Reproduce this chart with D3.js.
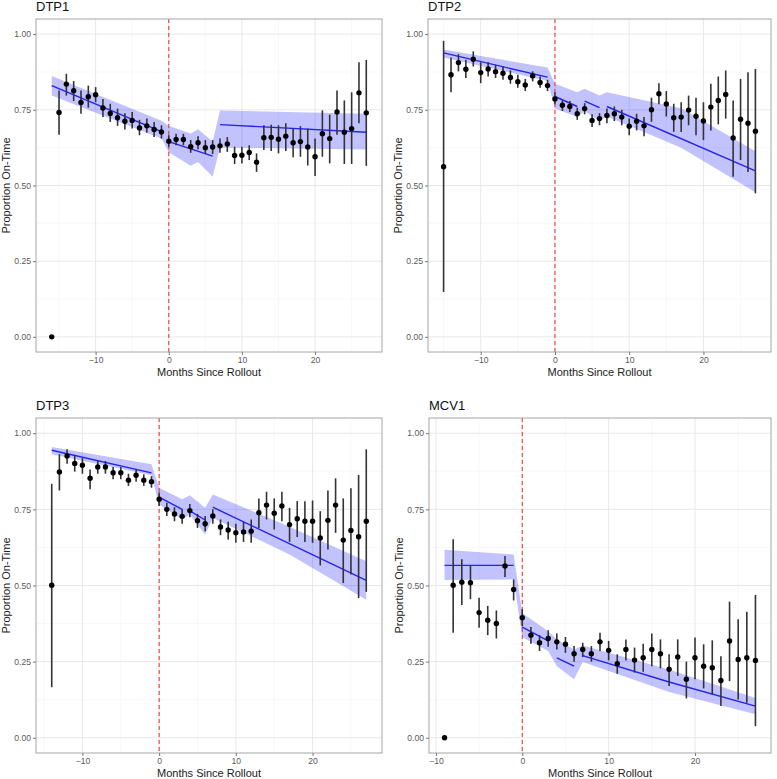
<!DOCTYPE html>
<html>
<head>
<meta charset="utf-8">
<script src="https://cdn.jsdelivr.net/npm/d3@7"></script>
<style>
  html, body { margin: 0; padding: 0; background: #fff; }
  svg { display: block; font-family: "Liberation Sans", Arial, Helvetica, sans-serif; }
</style>
</head>
<body>
<svg id="chart" width="777" height="779"></svg>
<script>
// ---------------- DATA ----------------
const yTicks = [0, 0.25, 0.5, 0.75, 1.0];
const yTickLabels = ["0.00", "0.25", "0.50", "0.75", "1.00"];
const yMinor = [0.125, 0.375, 0.625, 0.875];
const xTicks = [-10, 0, 10, 20];
const xMinor = [-15, -5, 5, 15, 25];

// DTP1
const dtp1Month = d3.range(-16, 28);
const dtp1Est = [0.000, 0.741, 0.835, 0.813, 0.774, 0.793, 0.800, 0.756, 0.738, 0.724, 0.712, 0.715, 0.690, 0.697, 0.685, 0.677,
  0.646, 0.652, 0.652, 0.628, 0.641, 0.625, 0.627, 0.631, 0.637, 0.599,
  0.600, 0.609, 0.577, 0.658, 0.659, 0.653, 0.663, 0.641, 0.645, 0.627,
  0.595, 0.671, 0.655, 0.743, 0.676, 0.688, 0.806, 0.740];
const dtp1Lo = [null, 0.668, 0.797, 0.779, 0.737, 0.757, 0.775, 0.726, 0.710, 0.697, 0.685, 0.688, 0.666, 0.674, 0.660, 0.655,
  0.628, 0.633, 0.633, 0.608, 0.620, 0.604, 0.604, 0.608, 0.611, 0.571,
  0.573, 0.584, 0.545, 0.617, 0.614, 0.606, 0.614, 0.593, 0.595, 0.566,
  0.531, 0.595, 0.573, 0.668, 0.571, 0.571, 0.706, 0.565];
const dtp1Hi = [null, 0.814, 0.869, 0.845, 0.814, 0.830, 0.825, 0.786, 0.770, 0.754, 0.739, 0.743, 0.717, 0.721, 0.710, 0.699,
  0.666, 0.671, 0.671, 0.650, 0.663, 0.650, 0.650, 0.655, 0.660, 0.628,
  0.628, 0.633, 0.606, 0.699, 0.701, 0.699, 0.706, 0.688, 0.696, 0.688,
  0.655, 0.748, 0.734, 0.814, 0.781, 0.808, 0.907, 0.915];
const dtp1FitMonth = [-16, -1, 0, 6, 7, 27];
const dtp1Fit = [0.830, 0.678, 0.645, 0.597, 0.701, 0.676];
const dtp1FitGroup = [1, 1, 2, 2, 3, 3];
const dtp1BandMonth = [-16, -1, 0, 3, 4, 6, 7, 27];
const dtp1BandLo = [0.797, 0.655, 0.610, 0.565, 0.578, 0.529, 0.625, 0.619];
const dtp1BandHi = [0.862, 0.714, 0.697, 0.672, 0.686, 0.645, 0.748, 0.737];

// DTP2
const dtp2Month = d3.range(-15, 28);
const dtp2Est = [0.562, 0.866, 0.906, 0.884, 0.917, 0.873, 0.885, 0.876, 0.871, 0.857, 0.843, 0.832, 0.862, 0.840, 0.830,
  0.786, 0.765, 0.761, 0.737, 0.754, 0.715, 0.721, 0.731, 0.737, 0.726,
  0.696, 0.712, 0.697, 0.750, 0.803, 0.769, 0.724, 0.726, 0.749, 0.729,
  0.713, 0.759, 0.781, 0.801, 0.657, 0.719, 0.706, 0.679];
const dtp2Lo = [0.148, 0.808, 0.877, 0.855, 0.893, 0.838, 0.860, 0.855, 0.849, 0.836, 0.823, 0.812, 0.844, 0.823, 0.812,
  0.768, 0.746, 0.743, 0.717, 0.735, 0.693, 0.699, 0.706, 0.713, 0.699,
  0.666, 0.682, 0.663, 0.710, 0.768, 0.728, 0.677, 0.677, 0.699, 0.666,
  0.650, 0.682, 0.702, 0.721, 0.529, 0.584, 0.545, 0.474];
const dtp2Hi = [0.978, 0.923, 0.934, 0.915, 0.943, 0.907, 0.907, 0.899, 0.893, 0.880, 0.866, 0.852, 0.877, 0.860, 0.849,
  0.808, 0.781, 0.779, 0.757, 0.772, 0.735, 0.739, 0.754, 0.761, 0.750,
  0.721, 0.737, 0.726, 0.790, 0.838, 0.812, 0.770, 0.775, 0.797, 0.790,
  0.775, 0.836, 0.860, 0.880, 0.781, 0.852, 0.874, 0.885];
const dtp2FitMonth = [-15, -1, 0, 3, 4, 6, 7, 27];
const dtp2Fit = [0.938, 0.858, 0.794, 0.761, 0.779, 0.757, 0.761, 0.548];
const dtp2FitGroup = [1, 1, 2, 2, 3, 3, 4, 4];
const dtp2BandMonth = [-15, -1, 0, 3, 4, 6, 7, 17, 27];
const dtp2BandLo = [0.923, 0.845, 0.754, 0.726, 0.745, 0.713, 0.728, 0.625, 0.478];
const dtp2BandHi = [0.949, 0.890, 0.836, 0.808, 0.820, 0.797, 0.808, 0.755, 0.613];

// DTP3
const dtp3Month = d3.range(-14, 28);
const dtp3Est = [0.501, 0.873, 0.925, 0.901, 0.895, 0.852, 0.889, 0.889, 0.870, 0.870, 0.846, 0.862, 0.846, 0.841,
  0.783, 0.750, 0.735, 0.727, 0.746, 0.713, 0.703, 0.728, 0.692, 0.682,
  0.673, 0.676, 0.678, 0.739, 0.764, 0.737, 0.761, 0.700, 0.719, 0.711,
  0.711, 0.656, 0.714, 0.764, 0.649, 0.681, 0.660, 0.711];
const dtp3Lo = [0.166, 0.812, 0.900, 0.874, 0.867, 0.816, 0.867, 0.867, 0.849, 0.849, 0.827, 0.841, 0.827, 0.821,
  0.761, 0.728, 0.711, 0.703, 0.724, 0.689, 0.678, 0.703, 0.665, 0.651,
  0.640, 0.643, 0.640, 0.689, 0.717, 0.684, 0.711, 0.643, 0.659, 0.643,
  0.640, 0.566, 0.618, 0.673, 0.508, 0.536, 0.459, 0.479];
const dtp3Hi = [0.834, 0.931, 0.947, 0.929, 0.918, 0.881, 0.911, 0.909, 0.889, 0.889, 0.867, 0.881, 0.865, 0.859,
  0.805, 0.772, 0.757, 0.750, 0.768, 0.735, 0.728, 0.750, 0.717, 0.709,
  0.703, 0.709, 0.717, 0.786, 0.808, 0.786, 0.808, 0.755, 0.777, 0.777,
  0.779, 0.744, 0.812, 0.852, 0.786, 0.819, 0.863, 0.947];
const dtp3FitMonth = [-14, -1, 0, 3, 4, 6, 7, 27];
const dtp3Fit = [0.944, 0.870, 0.790, 0.750, 0.745, 0.715, 0.757, 0.517];
const dtp3FitGroup = [1, 1, 2, 2, 3, 3, 4, 4];
const dtp3BandMonth = [-14, -1, 0, 3, 4, 6, 7, 17, 27];
const dtp3BandLo = [0.931, 0.862, 0.766, 0.717, 0.733, 0.667, 0.722, 0.602, 0.453];
const dtp3BandHi = [0.955, 0.898, 0.821, 0.783, 0.796, 0.755, 0.799, 0.693, 0.580];

// MCV1
const mcv1Month = d3.range(-9, 28);
const mcv1Est = [0.000, 0.501, 0.511, 0.509, 0.411, 0.386, 0.375, 0.564, 0.487,
  0.394, 0.337, 0.312, 0.326, 0.315, 0.307, 0.276, 0.290, 0.276, 0.315,
  0.287, 0.243, 0.290, 0.255, 0.263, 0.290, 0.276, 0.225, 0.265, 0.192,
  0.263, 0.235, 0.230, 0.188, 0.318, 0.257, 0.263, 0.254];
const mcv1Lo = [null, 0.345, 0.436, 0.455, 0.361, 0.337, 0.326, 0.528, 0.451,
  0.367, 0.309, 0.285, 0.299, 0.290, 0.279, 0.250, 0.265, 0.250, 0.285,
  0.254, 0.210, 0.254, 0.214, 0.217, 0.235, 0.228, 0.170, 0.203, 0.129,
  0.192, 0.162, 0.142, 0.104, 0.186, 0.126, 0.115, 0.038];
const mcv1Hi = [null, 0.652, 0.586, 0.564, 0.460, 0.433, 0.418, 0.597, 0.520,
  0.422, 0.364, 0.337, 0.353, 0.342, 0.331, 0.301, 0.312, 0.301, 0.345,
  0.318, 0.274, 0.323, 0.296, 0.309, 0.342, 0.323, 0.274, 0.323, 0.250,
  0.329, 0.307, 0.320, 0.268, 0.447, 0.389, 0.414, 0.469];
const mcv1FitMonth = [-9, -1, 0, 3, 4, 6, 7, 17, 27];
const mcv1Fit = [0.566, 0.566, 0.363, 0.318, 0.262, 0.235, 0.270, 0.183, 0.104];
const mcv1FitGroup = [1, 1, 2, 2, 3, 3, 4, 4, 4];
const mcv1BandMonth = [-9, -1, 0, 3, 4, 6, 7, 17, 27];
const mcv1BandLo = [0.518, 0.520, 0.330, 0.285, 0.235, 0.192, 0.249, 0.150, 0.077];
const mcv1BandHi = [0.617, 0.602, 0.410, 0.350, 0.323, 0.290, 0.303, 0.224, 0.131];

// ---------------- PANELS ----------------
const panels = [
  { title: "DTP1", left: 36, top: 19, right: 382, bottom: 352,
    month: dtp1Month, est: dtp1Est, lo: dtp1Lo, hi: dtp1Hi,
    fitM: dtp1FitMonth, fit: dtp1Fit, fitG: dtp1FitGroup,
    bandM: dtp1BandMonth, bandLo: dtp1BandLo, bandHi: dtp1BandHi },
  { title: "DTP2", left: 428, top: 19, right: 771, bottom: 352,
    month: dtp2Month, est: dtp2Est, lo: dtp2Lo, hi: dtp2Hi,
    fitM: dtp2FitMonth, fit: dtp2Fit, fitG: dtp2FitGroup,
    bandM: dtp2BandMonth, bandLo: dtp2BandLo, bandHi: dtp2BandHi },
  { title: "DTP3", left: 36, top: 418, right: 382, bottom: 753,
    month: dtp3Month, est: dtp3Est, lo: dtp3Lo, hi: dtp3Hi,
    fitM: dtp3FitMonth, fit: dtp3Fit, fitG: dtp3FitGroup,
    bandM: dtp3BandMonth, bandLo: dtp3BandLo, bandHi: dtp3BandHi },
  { title: "MCV1", left: 429, top: 418, right: 771, bottom: 753,
    month: mcv1Month, est: mcv1Est, lo: mcv1Lo, hi: mcv1Hi,
    fitM: mcv1FitMonth, fit: mcv1Fit, fitG: mcv1FitGroup,
    bandM: mcv1BandMonth, bandLo: mcv1BandLo, bandHi: mcv1BandHi }
];

const svg = d3.select("#chart");

panels.forEach(p => {
  const [mn, mx] = d3.extent(p.month);
  const pad = (mx - mn) * 0.05;
  const x = d3.scaleLinear().domain([mn - pad, mx + pad]).range([p.left, p.right]);
  const y = d3.scaleLinear().domain([-0.05, 1.05]).range([p.bottom, p.top]);
  const g = svg.append("g");

  // background
  g.append("rect").attr("x", p.left).attr("y", p.top)
    .attr("width", p.right - p.left).attr("height", p.bottom - p.top)
    .attr("fill", "#fff");

  // minor grid
  g.selectAll(".ymin").data(yMinor).join("line")
    .attr("x1", p.left).attr("x2", p.right)
    .attr("y1", d => y(d)).attr("y2", d => y(d))
    .attr("stroke", "#f3f3f3").attr("stroke-width", 0.6);
  g.selectAll(".xmin").data(xMinor.filter(d => x(d) > p.left && x(d) < p.right)).join("line")
    .attr("y1", p.top).attr("y2", p.bottom)
    .attr("x1", d => x(d)).attr("x2", d => x(d))
    .attr("stroke", "#f3f3f3").attr("stroke-width", 0.6);
  // major grid
  g.append("g").selectAll("line").data(yTicks).join("line")
    .attr("x1", p.left).attr("x2", p.right)
    .attr("y1", d => y(d)).attr("y2", d => y(d))
    .attr("stroke", "#e8e8e8").attr("stroke-width", 1);
  g.append("g").selectAll("line").data(xTicks).join("line")
    .attr("y1", p.top).attr("y2", p.bottom)
    .attr("x1", d => x(d)).attr("x2", d => x(d))
    .attr("stroke", "#e8e8e8").attr("stroke-width", 1);

  // ribbon
  const band = p.bandM.map((m, i) => ({ m, lo: p.bandLo[i], hi: p.bandHi[i] }));
  g.append("path").datum(band)
    .attr("d", d3.area().x(d => x(d.m)).y0(d => y(d.lo)).y1(d => y(d.hi)))
    .attr("fill", "#0000ff").attr("fill-opacity", 0.24).attr("stroke", "none");

  // fit lines
  const fitPts = p.fitM.map((m, i) => ({ m, v: p.fit[i], g: p.fitG[i] }));
  const groups = d3.groups(fitPts, d => d.g);
  g.append("g").selectAll("path").data(groups).join("path")
    .attr("d", d => d3.line().x(e => x(e.m)).y(e => y(e.v))(d[1]))
    .attr("fill", "none").attr("stroke", "#2424ee").attr("stroke-width", 1.4);

  // vertical dashed line at 0
  g.append("line")
    .attr("x1", x(0)).attr("x2", x(0)).attr("y1", p.top).attr("y2", p.bottom)
    .attr("stroke", "#ee3b3b").attr("stroke-width", 1.1)
    .attr("stroke-dasharray", "4,3");

  // error bars and points
  const pts = p.month.map((m, i) => ({ m, est: p.est[i], lo: p.lo[i], hi: p.hi[i] }));
  g.append("g").selectAll("line").data(pts.filter(d => d.lo !== null)).join("line")
    .attr("x1", d => x(d.m)).attr("x2", d => x(d.m))
    .attr("y1", d => y(d.lo)).attr("y2", d => y(d.hi))
    .attr("stroke", "#333").attr("stroke-width", 1.6);
  g.append("g").selectAll("circle").data(pts).join("circle")
    .attr("cx", d => x(d.m)).attr("cy", d => y(d.est)).attr("r", 2.7)
    .attr("fill", "#000");

  // border
  g.append("rect").attr("x", p.left).attr("y", p.top)
    .attr("width", p.right - p.left).attr("height", p.bottom - p.top)
    .attr("fill", "none").attr("stroke", "#a6a6a6").attr("stroke-width", 1);

  // axes
  const yAxis = d3.axisLeft(y).tickValues(yTicks)
    .tickFormat((d, i) => yTickLabels[i]).tickSize(3).tickPadding(2);
  const ya = g.append("g").attr("transform", `translate(${p.left},0)`).call(yAxis);
  ya.select(".domain").remove();
  ya.selectAll("line").attr("stroke", "#777");
  ya.selectAll("text").attr("fill", "#5a5a5a").style("font-size", "8.6px")
    .style("font-family", "'Liberation Sans', Arial, sans-serif");

  const xAxis = d3.axisBottom(x).tickValues(xTicks).tickFormat(d3.format("d"))
    .tickSize(3).tickPadding(2);
  const xa = g.append("g").attr("transform", `translate(0,${p.bottom})`).call(xAxis);
  xa.select(".domain").remove();
  xa.selectAll("line").attr("stroke", "#777");
  xa.selectAll("text").attr("fill", "#5a5a5a").style("font-size", "8.6px")
    .style("font-family", "'Liberation Sans', Arial, sans-serif");

  // titles
  g.append("text").attr("x", p.left).attr("y", p.top - 8.5)
    .attr("fill", "#111").style("font-size", "13px").text(p.title);
  g.append("text").attr("x", (p.left + p.right) / 2).attr("y", p.bottom + 23.5)
    .attr("text-anchor", "middle").attr("fill", "#222").style("font-size", "11px")
    .text("Months Since Rollout");
  g.append("text")
    .attr("transform", `translate(${p.left - 26.5},${(p.top + p.bottom) / 2}) rotate(-90)`)
    .attr("text-anchor", "middle").attr("fill", "#222").style("font-size", "11px")
    .text("Proportion On-Time");
});
</script>
</body>
</html>
